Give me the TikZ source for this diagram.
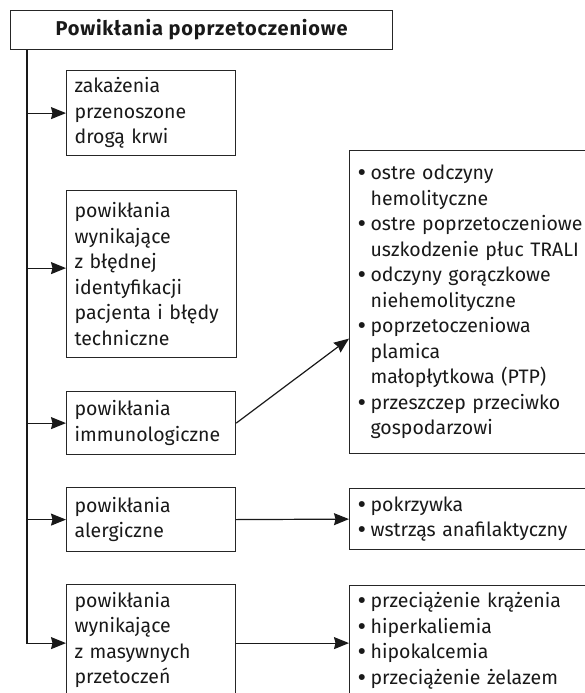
\documentclass[tikz,border=0pt]{standalone}
\usepackage{fontspec}
\usepackage{graphicx}
\setmainfont{Fira Sans}
\usetikzlibrary{arrows.meta,calc}
\newcommand{\bul}{\makebox[14pt][l]{\hspace{1pt}\raisebox{-0.2ex}{\scalebox{1.35}{\textbullet}}}}
\newcommand{\ind}{\hspace*{14pt}}
\begin{document}
\begin{tikzpicture}[x=1pt,y=-1pt,
  box/.style={draw=black!85, line width=1.2pt, anchor=north west, inner xsep=8pt, inner ysep=0pt,
    align=left, font=\fontsize{19.5}{25.5}\selectfont, text=black!90},
  rbox/.style={box, inner xsep=7pt, text width=246pt},
  conn/.style={line width=1.2pt, draw=black!90},
  arr/.style={conn, -{Stealth[length=15pt,width=12pt,inset=1.5pt]}}]
\useasboundingbox (0,0) rectangle (585,693);
\clip (0,0) rectangle (585,693);
% title
\node[box, minimum width=382pt, minimum height=39pt, align=center,
  font=\fontsize{20}{25}\selectfont\bfseries\addfontfeatures{LetterSpace=4}] (title) at (10,10) {Powikłania poprzetoczeniowe};
% left column
\node[box, text width=153pt, minimum height=85pt] (b1) at (66,70) {zakażenia\\przenoszone\\drogą~krwi};
\node[box, text width=154pt, minimum height=167pt] (b2) at (66,190) {powikłania\\wynikające\\z~błędnej\\identyfikacji\\pacjenta~i~błędy\\techniczne};
\node[box, text width=153pt, minimum height=63pt] (b3) at (66,391) {powikłania\\immunologiczne};
\node[box, text width=153pt, minimum height=64pt] (b4) at (66,487) {powikłania\\alergiczne};
\node[box, text width=153pt, minimum height=111pt] (b5) at (66,584) {powikłania\\wynikające\\z~masywnych\\przetoczeń};
% right column
\node[rbox, minimum height=303pt] (rA) at (349,150) {\bul ostre odczyny\\\ind hemolityczne\\\bul ostre poprzetoczeniowe\\\ind uszkodzenie płuc TRALI\\\bul odczyny gorączkowe\\\ind niehemolityczne\\\bul poprzetoczeniowa\\\ind plamica\\\ind małopłytkowa (PTP)\\\bul przeszczep przeciwko\\\ind gospodarzowi};
\node[rbox, minimum height=61pt] (rB) at (349,488) {\bul pokrzywka\\\bul wstrząs anafilaktyczny};
\node[rbox, minimum height=110pt] (rC) at (349,585) {\bul przeciążenie krążenia\\\bul hiperkaliemia\\\bul hipokalcemia\\\bul przeciążenie żelazem};
% trunk and branches
\coordinate (tr) at (27,0);
\coordinate (b2in) at ([yshift=6pt]b2.west);
\coordinate (rAin) at ($(rA.north west)!0.62!(rA.south west)$);
\coordinate (b5in) at ([yshift=-3pt]b5.west);
\coordinate (rCin) at ([yshift=-2pt]rC.west);
\draw[arr] (title.south -| tr) |- (b5in);
\draw[arr] (tr |- b1.west) -- (b1.west);
\draw[arr] (tr |- b2in) -- (b2in);
\draw[arr] (tr |- b3.west) -- (b3.west);
\draw[arr] (tr |- b4.west) -- (b4.west);
% right connectors
\draw[arr] (b3.east) -- (rAin);
\draw[arr] (b4.east) -- (rB.west);
\draw[arr] (b5.east |- b5in) -- (rC.west |- b5in);
\end{tikzpicture}
\end{document}
